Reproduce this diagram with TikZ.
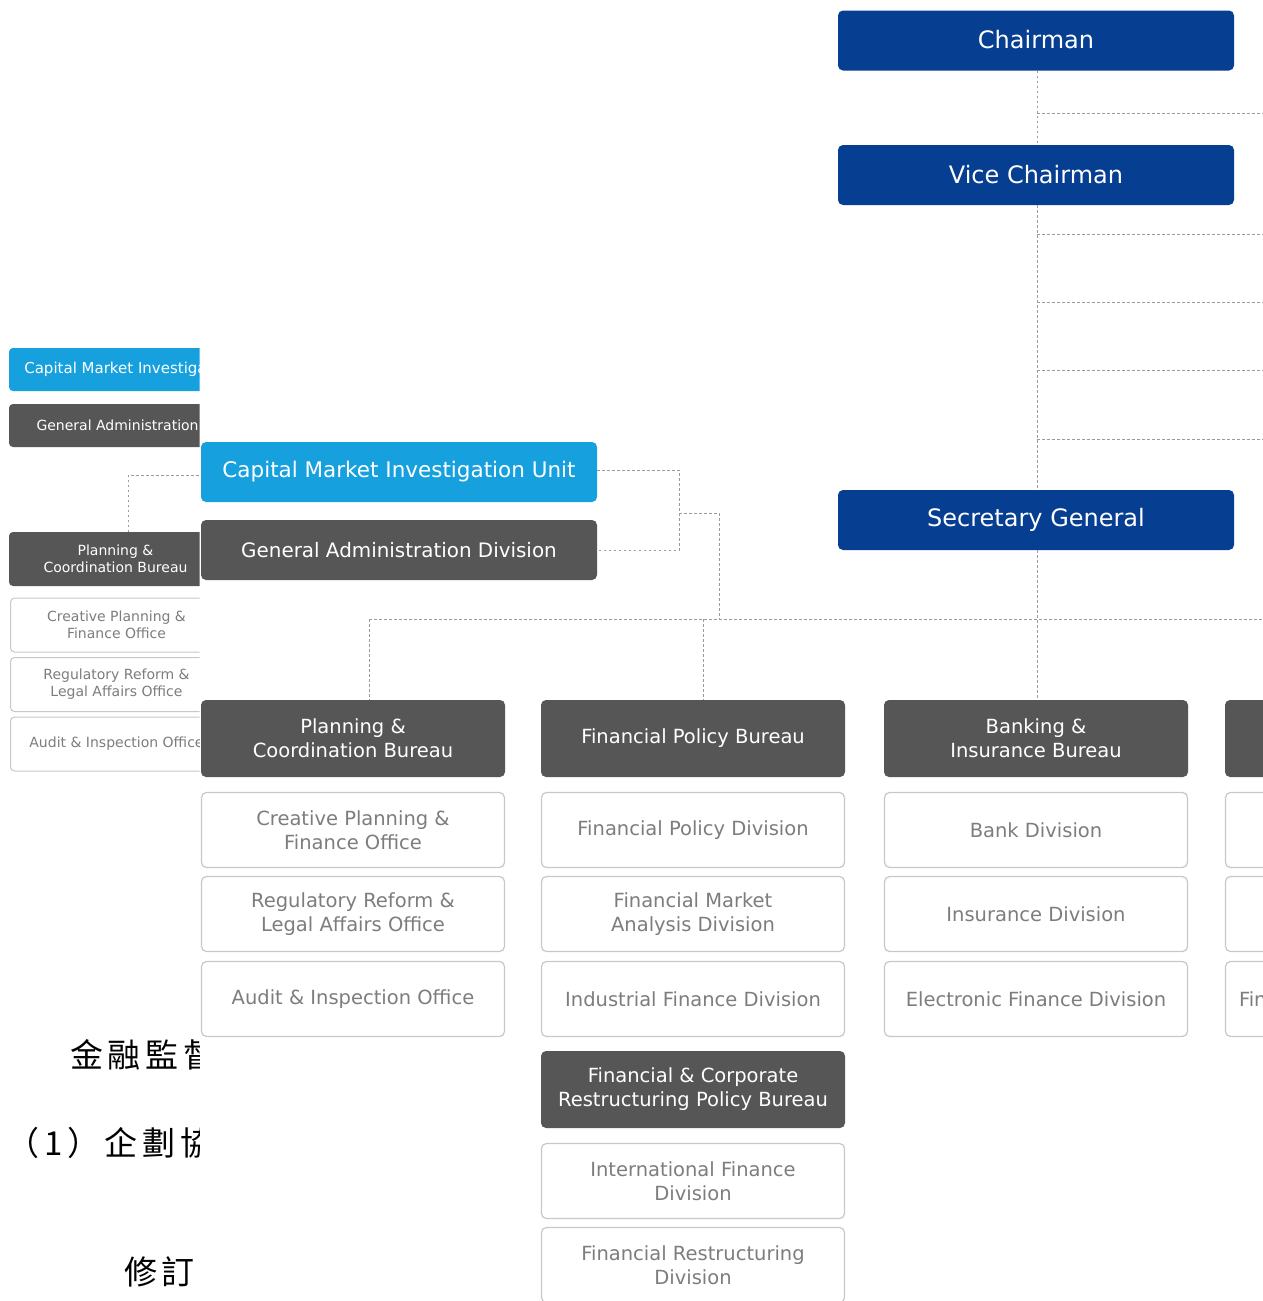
\documentclass[tikz,border=0pt]{standalone}
\usepackage{fontspec}
\setmainfont{DejaVu Sans}
\newfontfamily\cjkfont[LetterSpace=14]{Noto Sans CJK TC}
\definecolor{fscblue}{RGB}{6,62,145}
\definecolor{skyblue}{RGB}{22,161,222}
\definecolor{slate}{RGB}{86,86,86}
\definecolor{divline}{RGB}{200,200,200}
\definecolor{divtext}{RGB}{125,125,125}
\definecolor{linkgray}{RGB}{155,155,155}
\tikzset{
  anybox/.style={rounded corners=5pt, inner sep=0pt, outer sep=0pt, align=center},
  topbox/.style={anybox, fill=fscblue, text=white, minimum width=396, minimum height=60,
    font=\fontsize{24}{28}\selectfont},
  unitbox/.style={anybox, text=white, minimum width=396, minimum height=60},
  bureaubox/.style={anybox, fill=slate, text=white, minimum width=304, minimum height=77,
    font=\fontsize{19.5}{24}\selectfont},
  divbox/.style={anybox, fill=white, draw=divline, line width=1.2pt, text=divtext,
    minimum width=303, minimum height=75, font=\fontsize{19.5}{24}\selectfont},
  minibox/.style={anybox, rounded corners=4pt, text=white, font=\fontsize{14}{17}\selectfont},
  minidiv/.style={anybox, rounded corners=4pt, fill=white, draw=divline, line width=1pt,
    text=divtext, minimum width=212, minimum height=54, font=\fontsize{14}{17}\selectfont},
  link/.style={draw=linkgray, line width=1pt, dash pattern=on 2.5pt off 2.5pt},
  cjktext/.style={inner sep=0pt, anchor=base west, text=black,
    font=\cjkfont\fontsize{33}{36}\selectfont},
}
\begin{document}
\begin{tikzpicture}[x=1pt,y=-1pt]
\useasboundingbox (0,0) rectangle (1263,1301);
\fill[white] (0,0) rectangle (1263,1301);

% ---------- main chart ----------
\begin{scope}
\clip (0,0) rectangle (1263,1301);

% leadership column
\node[topbox] (chair) at (1036,40.5) {\raisebox{2pt}{Chairman}};
\node[topbox] (vice) at (1036,175) {Vice Chairman};
\node[topbox] (sg) at (1036,520) {Secretary General};

% units attached to the secretariat
\node[unitbox, fill=skyblue, font=\fontsize{21.5}{24}\selectfont] (cmiu) at (399,472)
  {\raisebox{-2pt}{Capital Market Investigation Unit}};
\node[unitbox, fill=slate, font=\fontsize{19.9}{24}\selectfont] (gad) at (399,550)
  {General Administration Division};

% bureaus
\node[bureaubox] (pcb) at (353,738.5) {Planning \&\\Coordination Bureau};
\node[bureaubox] (fpb) at (693,738.5) {Financial Policy Bureau};
\node[bureaubox] (bib) at (1036,738.5) {Banking \&\\Insurance Bureau};
\node[bureaubox] (b4) at (1377,738.5) {};
\node[bureaubox] (fcrpb) at (693,1089.5) {Financial \& Corporate\\Restructuring Policy Bureau};

% divisions and offices
\node[divbox] (pcb1) at (353,830) {Creative Planning \&\\Finance Office};
\node[divbox] (pcb2) at (353,914) {Regulatory Reform \&\\Legal Affairs Office};
\node[divbox] (pcb3) at (353,999) {Audit \& Inspection Office};
\node[divbox] (fpb1) at (693,830) {Financial Policy Division};
\node[divbox] (fpb2) at (693,914) {Financial Market\\Analysis Division};
\node[divbox] (fpb3) at (693,999) {Industrial Finance Division};
\node[divbox] (bib1) at (1036,830) {Bank Division};
\node[divbox] (bib2) at (1036,914) {Insurance Division};
\node[divbox] (bib3) at (1036,999) {Electronic Finance Division};
\node[divbox] (b41) at (1377,830) {};
\node[divbox] (b42) at (1377,914) {};
\node[divbox, text width=276, align=left] (b43) at (1377,999) {Financial};
\node[divbox] (fcr1) at (693,1181) {International Finance\\Division};
\node[divbox] (fcr2) at (693,1265) {Financial Restructuring\\Division};

% reporting lines
\coordinate (t1) at (1037,113);  \coordinate (e1) at (1263,113);
\coordinate (t2) at (1037,234);  \coordinate (e2) at (1263,234);
\coordinate (t3) at (1037,302);  \coordinate (e3) at (1263,302);
\coordinate (t4) at (1037,370);  \coordinate (e4) at (1263,370);
\coordinate (t5) at (1037,439);  \coordinate (e5) at (1263,439);
\coordinate (busL) at (369,619); \coordinate (busR) at (1263,619);
\coordinate (bk) at (679,513);   \coordinate (busJ) at (719,619);
\coordinate (fpDrop) at (703,619);

\draw[link] ([xshift=1pt]chair.south) -- ([xshift=1pt]vice.north);
\draw[link] ([xshift=1pt]vice.south) -- ([xshift=1pt]sg.north);
\draw[link] ([xshift=1pt]sg.south) -- ([xshift=1pt]bib.north);
\foreach \i in {1,...,5} {\draw[link] (t\i) -- (e\i);}
\draw[link] (busL) -- (busR);
\draw[link] (busL) -- (busL |- pcb.north);
\draw[link] (fpDrop) -- (fpDrop |- fpb.north);
\draw[link] ([yshift=2pt]cmiu.east) -| (bk) |- (gad.east);
\draw[link] (bk) -| (busJ);
\end{scope}

% ---------- inset strip on the left ----------
\begin{scope}
\clip (0,0) rectangle (199.5,1301);
\fill[white] (0,0) rectangle (199.5,1301);

\node[minibox, fill=skyblue, minimum width=277, minimum height=43] (lcmiu) at (147.5,369.5)
  {\fontsize{15}{17}\selectfont Capital Market Investigation Unit};
\node[minibox, fill=slate, minimum width=277, minimum height=43] (lgad) at (147.5,425.5)
  {General Administration Division};
\node[minibox, fill=slate, minimum width=213, minimum height=54] (lpcb) at (115.5,559)
  {Planning \&\\Coordination Bureau};
\node[minidiv] (lpcb1) at (116.5,625) {Creative Planning \&\\Finance Office};
\node[minidiv] (lpcb2) at (116.5,684.5) {Regulatory Reform \&\\Legal Affairs Office};
\node[minidiv] (lpcb3) at (116.5,744) {Audit \& Inspection Office};

\coordinate (lk) at (128,475);
\draw[link] ([xshift=12.5pt]lpcb.north) -- (lk) -- (lk -| cmiu.west);

% Chinese headings
\node[cjktext] (h1) at (70,1067) {金融監督};
\node[cjktext] (h2) at (6.5,1155) {（1）企劃協};
\node[cjktext] (h3) at (124,1284) {修訂};
\end{scope}
\end{tikzpicture}
\end{document}
